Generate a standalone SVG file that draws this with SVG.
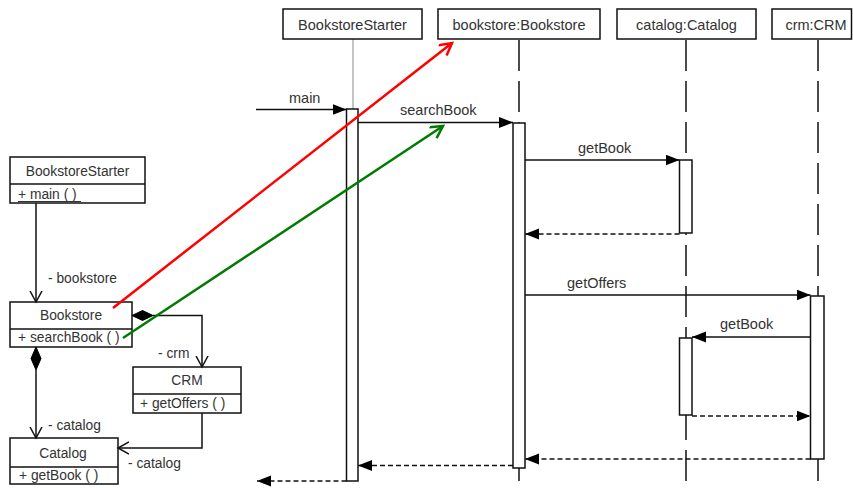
<svg xmlns="http://www.w3.org/2000/svg" width="853" height="488" viewBox="0 0 853 488">
  <style>
    text { font-family: "Liberation Sans", Arial, sans-serif; fill: #333; }
    .hdr { font-size: 14.5px; text-anchor: middle; }
    .msg { font-size: 14.5px; }
    .cls { font-size: 13.8px; }
    .mid { text-anchor: middle; }
    .box { fill: #fff; stroke: #111; stroke-width: 1.5; }
    .act { fill: #fff; stroke: #111; stroke-width: 1.5; }
    .life { stroke: #111; stroke-width: 1.5; stroke-dasharray: 31 10; fill: none; }
    .call { stroke: #111; stroke-width: 1.5; fill: none; marker-end: url(#solid); }
    .ret { stroke: #111; stroke-width: 1.5; fill: none; stroke-dasharray: 5 3; marker-end: url(#solid); }
    .assoc { stroke: #111; stroke-width: 1.5; fill: none; marker-end: url(#open); }
    .div { stroke: #111; stroke-width: 1.5; }
  </style>
  <defs>
    <marker id="solid" markerUnits="userSpaceOnUse" markerWidth="15" markerHeight="12" refX="14" refY="5.5" orient="auto">
      <path d="M0,0 L14,5.5 L0,11 z" fill="#000"/>
    </marker>
    <marker id="open" markerUnits="userSpaceOnUse" markerWidth="14" markerHeight="14" refX="11" refY="6.5" orient="auto">
      <path d="M0,0.5 L11,6.5 L0,12.5" fill="none" stroke="#111" stroke-width="1.5"/>
    </marker>
    <marker id="openRed" markerUnits="userSpaceOnUse" markerWidth="16" markerHeight="16" refX="13" refY="7" orient="auto">
      <path d="M1,0.5 L13,7 L1,13.5" fill="none" stroke="#ff0000" stroke-width="2.5"/>
    </marker>
    <marker id="openGreen" markerUnits="userSpaceOnUse" markerWidth="16" markerHeight="16" refX="13" refY="7" orient="auto">
      <path d="M1,0.5 L13,7 L1,13.5" fill="none" stroke="#007a00" stroke-width="2.5"/>
    </marker>
  </defs>

  <!-- lifelines -->
  <g id="lifelines">
    <line x1="353" y1="39" x2="353" y2="109" stroke="#888" stroke-width="1"/>
    <line class="life" x1="519" y1="40" x2="519" y2="488"/>
    <line class="life" x1="686" y1="40" x2="686" y2="488"/>
    <line class="life" x1="818" y1="40" x2="818" y2="488"/>
  </g>

  <!-- sequence participants -->
  <g id="seq-starter">
    <rect class="box" x="283" y="9" width="139" height="30"/>
    <text class="hdr" x="352.5" y="30">BookstoreStarter</text>
    <rect class="act" x="346.5" y="109" width="11.5" height="372"/>
  </g>
  <g id="seq-bookstore">
    <rect class="box" x="438" y="9" width="162" height="30"/>
    <text class="hdr" x="519" y="30">bookstore:Bookstore</text>
    <rect class="act" x="513" y="123" width="12" height="345"/>
  </g>
  <g id="seq-catalog">
    <rect class="box" x="617" y="9" width="139" height="30"/>
    <text class="hdr" x="686.5" y="30">catalog:Catalog</text>
    <rect class="act" x="679.5" y="160" width="12.5" height="73"/>
    <rect class="act" x="679.5" y="338" width="12.5" height="77"/>
  </g>
  <g id="seq-crm">
    <rect class="box" x="772" y="9" width="79.5" height="30"/>
    <text class="hdr" x="816" y="30">crm:CRM</text>
    <rect class="act" x="810.5" y="296" width="13.5" height="163"/>
  </g>

  <!-- messages -->
  <g id="messages">
    <line class="call" x1="256" y1="109.5" x2="346.5" y2="109.5"/>
    <text class="msg" x="289" y="103">main</text>
    <line class="call" x1="358" y1="122.5" x2="513" y2="122.5"/>
    <text class="msg" x="400" y="115">searchBook</text>
    <line class="call" x1="525" y1="160" x2="679.5" y2="160"/>
    <text class="msg" x="578" y="153">getBook</text>
    <line class="ret" x1="679.5" y1="234" x2="525" y2="234"/>
    <line class="call" x1="525" y1="295" x2="810.5" y2="295"/>
    <text class="msg" x="567" y="288">getOffers</text>
    <line class="call" x1="810.5" y1="337" x2="692" y2="337"/>
    <text class="msg" x="720" y="329">getBook</text>
    <line class="ret" x1="692" y1="416" x2="810.5" y2="416"/>
    <line class="ret" x1="810.5" y1="459" x2="525" y2="459"/>
    <line class="ret" x1="513" y1="465.5" x2="358" y2="465.5"/>
    <line class="ret" x1="346.5" y1="481" x2="257" y2="481"/>
  </g>

  <!-- class diagram -->
  <g id="cls-starter">
    <rect class="box" x="10" y="157" width="135" height="46"/>
    <line class="div" x1="10" y1="184" x2="145" y2="184"/>
    <text class="cls mid" x="77.5" y="176">BookstoreStarter</text>
    <text class="cls" x="18" y="199">+ main ( )</text>
    <line x1="18" y1="201.5" x2="81" y2="201.5" stroke="#333" stroke-width="1"/>
  </g>
  <g id="cls-bookstore">
    <rect class="box" x="10" y="302" width="122" height="45"/>
    <line class="div" x1="10" y1="329" x2="132" y2="329"/>
    <text class="cls mid" x="71" y="320">Bookstore</text>
    <text class="cls" x="18" y="342">+ searchBook ( )</text>
  </g>
  <g id="cls-crm">
    <rect class="box" x="133" y="367" width="108" height="46"/>
    <line class="div" x1="133" y1="394" x2="241" y2="394"/>
    <text class="cls mid" x="187" y="385">CRM</text>
    <text class="cls" x="140" y="408">+ getOffers ( )</text>
  </g>
  <g id="cls-catalog">
    <rect class="box" x="10" y="438" width="108" height="46"/>
    <line class="div" x1="10" y1="467" x2="118" y2="467"/>
    <text class="cls mid" x="63" y="458">Catalog</text>
    <text class="cls" x="19" y="480">+ getBook ( )</text>
  </g>

  <!-- associations -->
  <g id="associations">
    <line class="assoc" x1="36" y1="203" x2="36" y2="302"/>
    <text class="cls" x="48" y="283">- bookstore</text>
    <path d="M132,315.5 L142.5,310.5 L153,315.5 L142.5,320.5 z" fill="#000" stroke="#000" stroke-width="1"/>
    <path class="assoc" d="M153,315.5 L202,315.5 L202,367"/>
    <text class="cls" x="158" y="358">- crm</text>
    <path d="M36,347 L41,358.5 L36,370 L31,358.5 z" fill="#000" stroke="#000" stroke-width="1"/>
    <line class="assoc" x1="36" y1="370" x2="36" y2="438"/>
    <text class="cls" x="48" y="430">- catalog</text>
    <path class="assoc" d="M202,413 L202,448 L118,448"/>
    <text class="cls" x="128" y="468">- catalog</text>
  </g>

  <!-- mapping arrows from classes to lifelines -->
  <g id="mappings">
    <line x1="113" y1="308" x2="452" y2="43" stroke="#ff0000" stroke-width="2.5" marker-end="url(#openRed)"/>
    <line x1="123" y1="338" x2="443" y2="126" stroke="#007a00" stroke-width="2.5" marker-end="url(#openGreen)"/>
  </g>
</svg>
